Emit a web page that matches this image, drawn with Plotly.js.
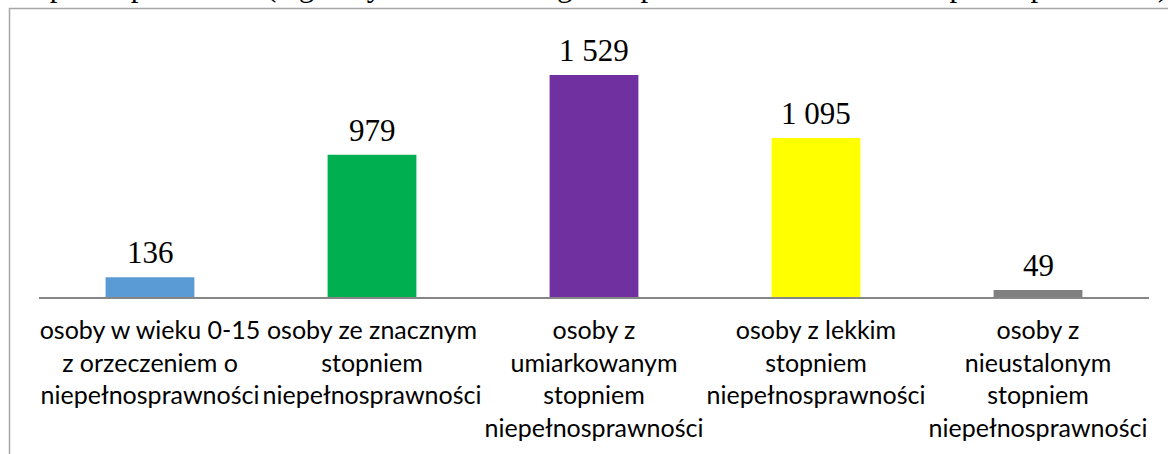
<!DOCTYPE html>
<html>
<head>
<meta charset="utf-8">
<script src="https://cdn.plot.ly/plotly-3.0.1.min.js"></script>
<style>html,body{margin:0;padding:0;background:#fff;}#chart{width:1168px;height:454px;}</style>
</head>
<body>
<div id="chart"></div>
<script>
const categories = [
  "osoby w wieku 0-15<br>z orzeczeniem o<br>niepełnosprawności",
  "osoby ze znacznym<br>stopniem<br>niepełnosprawności",
  "osoby z<br>umiarkowanym<br>stopniem<br>niepełnosprawności",
  "osoby z lekkim<br>stopniem<br>niepełnosprawności",
  "osoby z<br>nieustalonym<br>stopniem<br>niepełnosprawności"
];
const values = [136, 979, 1529, 1095, 49];
const barColors = ["#5B9BD5", "#00B050", "#7030A0", "#FFFF00", "#808080"];
const titleText = "niepełnosprawności (wg danych Powiatowego Zespołu ds. Orzekania o Niepełnosprawności)";

function fmt(v) { return String(v).replace(/\B(?=(\d{3})+(?!\d))/g, " "); }

const W = 1168, H = 454;
const m = {l: 39, r: 19, t: 30, b: 157};
const pw = W - m.l - m.r, ph = H - m.t - m.b;
const px2x = p => (p - m.l) / pw;
const py2y = p => (H - m.b - p) / ph;

const trace = {
  type: "bar",
  x: categories,
  y: values,
  marker: {color: barColors, line: {width: 0}},
  width: 0.4,
  hoverinfo: "skip"
};

const annotations = values.map((v, i) => ({
  x: categories[i], y: v, xref: "x", yref: "y",
  text: fmt(v), showarrow: false, yanchor: "bottom", yshift: 5,
  font: {family: "Liberation Serif, Times New Roman, serif", size: 31, color: "#000"}
}));
annotations.push({
  xref: "paper", yref: "paper", x: px2x(10), y: py2y(5), xanchor: "left", yanchor: "bottom",
  text: titleText, showarrow: false,
  font: {family: "Liberation Serif, Times New Roman, serif", size: 31, color: "#000"}
});

const layout = {
  width: W, height: H,
  margin: m,
  paper_bgcolor: "#fff", plot_bgcolor: "#fff",
  showlegend: false,
  bargap: 0.6,
  xaxis: {
    type: "category",
    showline: true, linecolor: "#868686", linewidth: 2,
    showgrid: false, zeroline: false, ticks: "",
    tickfont: {family: "Lato, Carlito, Calibri, sans-serif", size: 25, color: "#000"},
    ticklabelstandoff: 10,
    fixedrange: true
  },
  yaxis: {visible: false, range: [0, 1839], fixedrange: true},
  annotations: annotations,
  shapes: [{
    type: "rect", xref: "paper", yref: "paper",
    x0: px2x(9.5), x1: px2x(1175), y0: py2y(470), y1: py2y(8.5),
    line: {color: "#A6A6A6", width: 1.5}, fillcolor: "rgba(0,0,0,0)", layer: "below"
  }]
};

Plotly.newPlot("chart", [trace], layout, {displayModeBar: false, staticPlot: true});
</script>
</body>
</html>
